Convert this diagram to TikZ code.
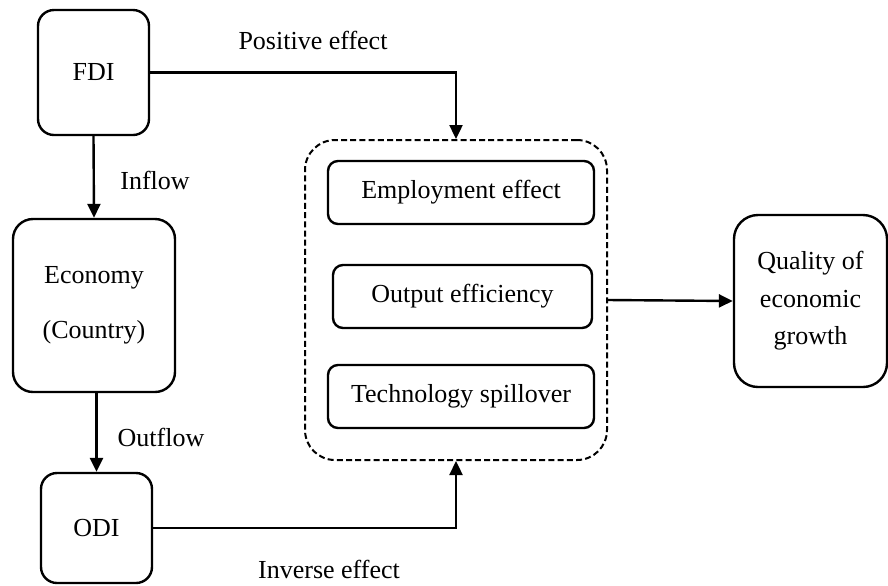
\documentclass[tikz,border=0pt]{standalone}
\usepackage{fontspec}
\setmainfont{Liberation Serif}
\usetikzlibrary{arrows.meta}

\begin{document}
\begin{tikzpicture}[x=0.5pt, y=-0.5pt, line width=1.2pt,
		font=\fontsize{13}{18.75}\selectfont,
		box/.style={draw=black, line width=1.2pt, rounded corners=8pt, align=center, inner sep=0pt},
		effectbox/.style={box, rounded corners=5pt, minimum height=31.5pt},
		flow/.style={draw=black, -{Triangle[length=7pt,width=6.5pt]}}]
		\useasboundingbox (0,0) rectangle (888,585);
		% investment flows on the left
		\node[box, minimum width=55.5pt, minimum height=62.5pt] (fdi) at (93.5,72.5) {FDI};
		\node[box, rounded corners=10pt, minimum width=81pt, minimum height=86.5pt] (economy) at (94,305.5) {Economy\\[9pt](Country)};
		\node[box, minimum width=55.5pt, minimum height=55pt] (odi) at (96.5,528) {ODI};
		% channels
		\node[draw=black, line width=1pt, dash pattern=on 3pt off 1.6pt, rounded corners=15pt, minimum width=151pt, minimum height=160pt] (impact) at (456,300) {};
		\node[effectbox, minimum width=133pt] (employ) at (461,192.5) {Employment effect};
		\node[effectbox, minimum width=129.5pt] (output) at (462.5,296.5) {Output efficiency};
		\node[effectbox, minimum width=133pt] (tech) at (461,396.5) {Technology spillover};
		% outcome
		\node[box, rounded corners=12pt, minimum width=76.5pt, minimum height=86pt] (quality) at (810.5,301) {Quality of\\economic\\growth};
		% connectors
		\draw[flow] (fdi.south) -- (economy.north);
		\draw[flow] (economy.south -| odi.north) -- (odi.north);
		\draw[flow] (fdi.east) -| (impact.north);
		\draw[flow] (odi.east) -| (impact.south);
		\draw[flow] (impact.east) -- (quality.west);
		% labels
		\node (poslbl) at (313,40) {Positive effect};
		\node (inlbl) at (155,180) {Inflow};
		\node (outlbl) at (161,437) {Outflow};
		\node (invlbl) at (329,569) {Inverse effect};
	\end{tikzpicture}
\end{document}
